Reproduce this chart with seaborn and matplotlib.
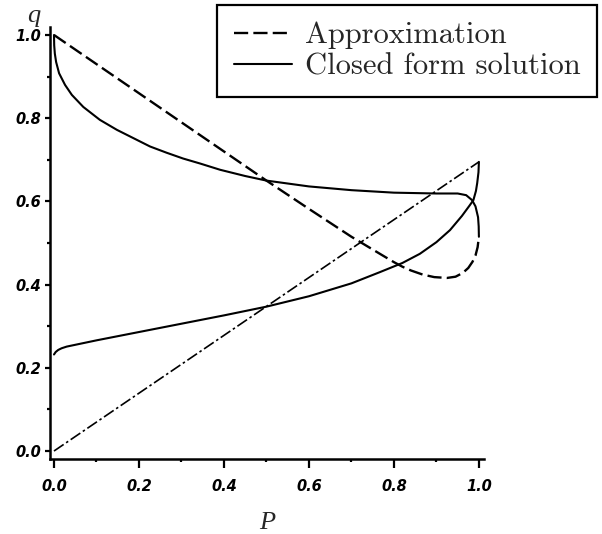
#!/usr/bin/env python3
"""Approximation vs closed form solution, q against P."""
import matplotlib
matplotlib.use('Agg')
import matplotlib.pyplot as plt
import pandas as pd
import seaborn as sns

# Approximation: straight branch and the curved branch
approx_line_P = [0.0, 1.0]
approx_line_q = [0.0, 0.695]
approx_curve_P = [0.0, 0.1, 0.2, 0.3, 0.4, 0.5, 0.6, 0.7, 0.767, 0.8, 0.82, 0.84, 0.868,
                  0.895, 0.925, 0.945, 0.962, 0.975, 0.985, 0.992, 0.997, 1.0]
approx_curve_q = [1.0, 0.93, 0.86, 0.79, 0.72, 0.65, 0.582, 0.515, 0.474, 0.454, 0.443,
                  0.434, 0.424, 0.418, 0.416, 0.419, 0.428, 0.44, 0.455, 0.47, 0.49, 0.515]

# Closed form solution: upper and lower branch
closed_upper_P = [0.0, 0.0005, 0.002, 0.005, 0.012, 0.026, 0.042, 0.069, 0.108, 0.148,
                  0.187, 0.226, 0.265, 0.304, 0.344, 0.391, 0.45, 0.5, 0.6, 0.7, 0.8,
                  0.9, 0.95, 0.97, 0.984, 0.992, 0.998, 0.9995, 1.0]
closed_upper_q = [1.0, 0.975, 0.955, 0.935, 0.908, 0.88, 0.856, 0.827, 0.796, 0.772,
                  0.752, 0.732, 0.717, 0.703, 0.691, 0.676, 0.661, 0.65, 0.636, 0.627,
                  0.621, 0.619, 0.619, 0.615, 0.603, 0.588, 0.562, 0.54, 0.515]
closed_lower_P = [0.0, 0.004, 0.01, 0.018, 0.03, 0.1, 0.2, 0.3, 0.4, 0.5, 0.6, 0.7,
                  0.767, 0.82, 0.861, 0.9, 0.932, 0.96, 0.978, 0.987, 0.993, 0.996,
                  0.999, 1.0]
closed_lower_q = [0.232, 0.238, 0.243, 0.247, 0.251, 0.266, 0.286, 0.306, 0.326, 0.347,
                  0.372, 0.403, 0.43, 0.452, 0.474, 0.502, 0.531, 0.565, 0.59, 0.603,
                  0.625, 0.644, 0.67, 0.695]

ticks = [0.0, 0.2, 0.4, 0.6, 0.8, 1.0]
tick_labels = ['0.0', '0.2', '0.4', '0.6', '0.8', '1.0']
minor_ticks = [0.1, 0.3, 0.5, 0.7, 0.9]


def frame(P, q):
    return pd.DataFrame({'P': P, 'q': q})


def main():
    sns.set_style('ticks')
    fig = plt.figure(figsize=(6.02, 5.34), dpi=100)
    ax = fig.add_axes([50 / 602, 75 / 534, 434 / 602, 432 / 534])

    common = dict(x='P', y='q', sort=False, estimator=None, ax=ax, color='black')
    sns.lineplot(data=frame(approx_line_P, approx_line_q), lw=1.2,
                 linestyle=(0, (7, 1.8, 1.5, 1.8)), **common)
    sns.lineplot(data=frame(approx_curve_P, approx_curve_q), lw=1.7,
                 linestyle=(0, (6, 2.2)), label='Approximation', **common)
    sns.lineplot(data=frame(closed_upper_P, closed_upper_q), lw=1.5,
                 label='Closed form solution', **common)
    sns.lineplot(data=frame(closed_lower_P, closed_lower_q), lw=1.5, **common)

    ax.set_xlim(-0.0094, 1.012)
    ax.set_ylim(-0.0192, 1.0192)
    sns.despine(ax=ax)
    for side in ['left', 'bottom']:
        ax.spines[side].set_linewidth(1.8)
        ax.spines[side].set_color('black')

    ax.set_xticks(ticks)
    ax.set_xticklabels(tick_labels)
    ax.set_yticks(ticks)
    ax.set_yticklabels(tick_labels)
    ax.set_xticks(minor_ticks, minor=True)
    ax.set_yticks(minor_ticks, minor=True)
    ax.tick_params(axis='x', which='major', direction='out', length=6.5, width=1.6,
                   pad=8, colors='black')
    ax.tick_params(axis='y', which='major', direction='out', length=3.6, width=1.6,
                   pad=3, colors='black')
    ax.tick_params(which='minor', direction='out', length=2.2, width=1.6, colors='black')
    for lab in ax.get_xticklabels() + ax.get_yticklabels():
        lab.set_family('DejaVu Sans')
        lab.set_fontweight('bold')
        lab.set_fontstyle('italic')
        lab.set_fontsize(10.5)

    ax.set_xlabel('P', family='Liberation Serif', style='italic', fontsize=19, labelpad=13)
    ax.set_ylabel('q', family='Liberation Serif', style='italic', fontsize=19,
                  rotation=0)
    ax.yaxis.set_label_coords(-0.037, 1.0)

    leg = ax.legend(loc='upper right', bbox_to_anchor=(597 / 602, 1 - 5 / 534),
                    bbox_transform=fig.transFigure, prop={'family': 'cmr10', 'size': 22},
                    frameon=True, fancybox=False, framealpha=1, edgecolor='black',
                    handlelength=1.9, handletextpad=0.4, borderpad=0.55,
                    labelspacing=0.12, borderaxespad=0)
    leg.get_frame().set_linewidth(1.6)

    fig.savefig('out.png', dpi=100)
    plt.close(fig)


if __name__ == '__main__':
    main()
